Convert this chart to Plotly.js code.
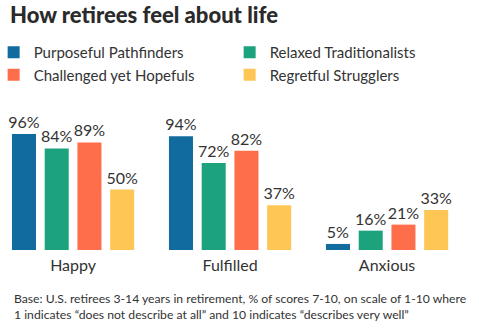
<!DOCTYPE html>
<html><head><meta charset="utf-8">
<script src="https://cdn.plot.ly/plotly-3.0.1.min.js"></script>
<style>html,body{margin:0;padding:0;background:#fff}#chart{width:479px;height:333px}</style>
</head><body><div id="chart"></div>
<script>
const categories = ["Happy", "Fulfilled", "Anxious"];
const seriesNames = ["Purposeful Pathfinders", "Relaxed Traditionalists", "Challenged yet Hopefuls", "Regretful Strugglers"];
const purposeful = [96, 94, 5];
const relaxed = [84, 72, 16];
const challenged = [89, 82, 21];
const regretful = [50, 37, 33];
const colors = ["#126B9F", "#1CA37E", "#FF6E4A", "#FEC654"];
const values = [purposeful, relaxed, challenged, regretful];

const font = "Lato, 'Open Sans', sans-serif";
const traces = seriesNames.map((n, i) => ({
  type: "bar", name: n, x: categories, y: values[i],
  marker: {color: colors[i]},
  texttemplate: "%{y}%", textposition: "outside", cliponaxis: false, constraintext: "none",
  textfont: {family: font, size: 16, color: "#333"},
  hoverinfo: "skip"
}));

const layout = {
  width: 479, height: 333,
  margin: {l: 4, r: 4, t: 117, b: 83, autoexpand: false},
  paper_bgcolor: "#fff", plot_bgcolor: "#fff",
  barmode: "group", bargap: 0.166, bargroupgap: 0.266,
  showlegend: true,
  legend: {orientation: "h", x: -0.022, xanchor: "left", y: 1.609, yanchor: "top",
    entrywidth: 191, entrywidthmode: "pixels", tracegroupgap: 0,
    font: {family: font, size: 15, color: "#333"}, itemclick: false},
  xaxis: {range: [-0.44, 2.56], showgrid: false, zeroline: false, showline: false,
    ticks: "outside", ticklen: 1, tickcolor: "rgba(0,0,0,0)",
    tickfont: {family: font, size: 16, color: "#333"}, fixedrange: true},
  yaxis: {range: [0, 110], visible: false, fixedrange: true},
  title: {text: "How retirees feel about life", x: 0.021, xanchor: "left", y: 0.976, yanchor: "top",
    font: {family: font, size: 22, weight: 900, color: "#2a2a2a"}},
  annotations: [{
    xref: "paper", yref: "paper", x: 0.017, y: -0.29, xanchor: "left", yanchor: "top", align: "left", showarrow: false,
    text: "Base: U.S. retirees 3-14 years in retirement, % of scores 7-10, on scale of 1-10 where<br>1 indicates “does not describe at all” and 10 indicates “describes very well”",
    font: {family: font, size: 12.2, color: "#333"}
  }]
};
Plotly.newPlot("chart", traces, layout, {displayModeBar: false, staticPlot: true});
</script></body></html>
